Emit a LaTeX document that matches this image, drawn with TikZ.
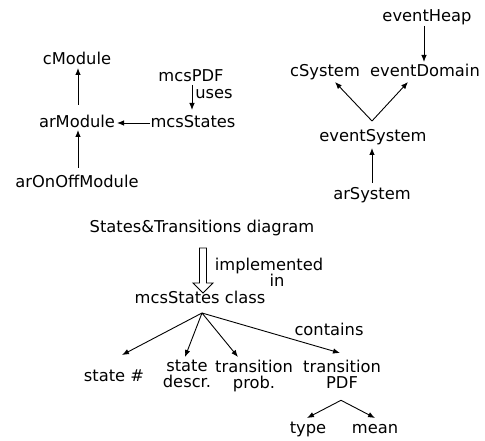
\documentclass[tikz,border=0pt]{standalone}
\usepackage{fontspec}
\setmainfont{DejaVu Sans}
\usetikzlibrary{arrows.meta}
\begin{document}
\begin{tikzpicture}[x=1pt,y=-1pt,
  lbl/.style={inner sep=0pt, font=\fontsize{16.3}{16}\selectfont, anchor=base},
  multi/.style={inner sep=0pt, font=\fontsize{16.3}{16}\selectfont, align=center, anchor=north},
  arr/.style={-{Latex[length=7pt,width=5.5pt]}, line width=0.9pt},
  hollow/.style={draw, line width=0.9pt, fill=white, line join=miter}]
\useasboundingbox (0,0) rectangle (485,441);

% module hierarchy
\node[lbl] (cModule)   at (77,65)   {cModule};
\node[lbl] (mcsPDF)    at (191,82)  {mcsPDF};
\node[lbl] (uses)      at (214,99)  {uses};
\node[lbl] (arModule)  at (77,128)  {arModule};
\node[lbl] (mcsStates) at (193,128) {mcsStates};
\node[lbl] (arOnOff)   at (77,188)  {arOnOffModule};

\draw[arr] ([shift={(1,-23)}]arModule.base) -- ([shift={(1,3)}]cModule.base);
\draw[arr] ([shift={(1,3)}]mcsPDF.base) -- ([shift={(-1,-18)}]mcsStates.base);
\draw[arr] ([shift={(-43,-5)}]mcsStates.base) -- ([shift={(40,-5)}]arModule.base);
\draw[arr] ([shift={(1,-20)}]arOnOff.base) -- ([shift={(1,2)}]arModule.base);

% system hierarchy
\node[lbl] (eventHeap)   at (427,22)  {eventHeap};
\node[lbl] (cSystem)     at (325,77)  {cSystem};
\node[lbl] (eventDomain) at (425,77)  {eventDomain};
\node[lbl] (eventSystem) at (373,142) {eventSystem};
\node[lbl] (arSystem)    at (372,200) {arSystem};

\draw[arr] ([shift={(-3,4)}]eventHeap.base) -- ([shift={(-1,-15)}]eventDomain.base);
\coordinate (esApex) at ([shift={(-1,-21)}]eventSystem.base);
\draw[arr] (esApex) -- ([shift={(10,5)}]cSystem.base);
\draw[arr] (esApex) -- ([shift={(-17,5)}]eventDomain.base);
\draw[arr] ([shift={(0,-17)}]arSystem.base) -- ([shift={(-1,6)}]eventSystem.base);

% states and transitions
\node[lbl]   (diagram)  at (202,233) {States\&Transitions diagram};
\node[multi] (implIn)   at (269,258) {implemented\\\hspace*{16pt}in};
\node[lbl]   (mcsClass) at (200,303) {mcsStates class};

\coordinate (hTip) at ([shift={(3,-10)}]mcsClass.base);
\draw[hollow] (hTip) -- ++(-10,-10) -- ++(6.5,0) -- ++(0,-35) -- ++(7,0)
  -- ++(0,35) -- ++(6.5,0) -- cycle;

\node[lbl]   (contains)   at (329,335)   {contains};
\node[lbl]   (stateNum)   at (114,381)   {state \#};
\node[multi] (stateDescr) at (187,359.5) {state\\descr.};
\node[multi] (transProb)  at (254,359.5) {transition\\prob.};
\node[multi] (transPDF)   at (342,359.5) {transition\\PDF};

\coordinate (mcApex) at ([shift={(2,10)}]mcsClass.base);
\draw[arr] (mcApex) -- ([shift={(8,-26)}]stateNum.base);
\draw[arr] (mcApex) -- ([shift={(-2,-2.5)}]stateDescr.north);
\draw[arr] (mcApex) -- ([shift={(-16,-2.5)}]transProb.north);
\draw[arr] (mcApex) -- ([shift={(-2,-6.5)}]transPDF.north);

\node[lbl] (type) at (308,433) {type};
\node[lbl] (mean) at (375,433) {mean};

\coordinate (pdfApex) at ([shift={(-1,12)}]transPDF.south);
\draw[arr] (pdfApex) -- ([shift={(-1,-15)}]type.base);
\draw[arr] (pdfApex) -- ([shift={(0,-15)}]mean.base);
\end{tikzpicture}
\end{document}
